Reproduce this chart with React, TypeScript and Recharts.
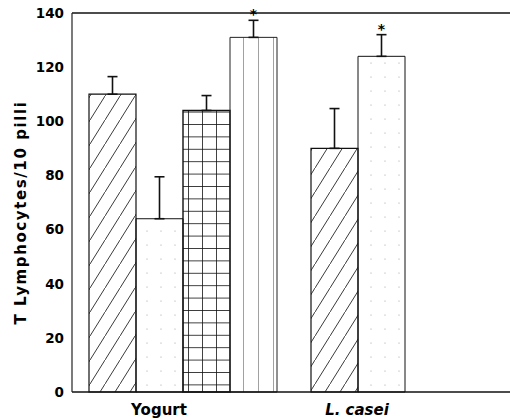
import React from "react";
import {
  BarChart,
  Bar,
  XAxis,
  YAxis,
  ErrorBar,
  LabelList,
  ReferenceLine,
} from "recharts";

// groups on the x axis
const categories = ["Yogurt", "L. casei"];

// one list per bar pattern, one value per group (null = no bar)
const hatchValues = [110, 90];
const hatchErrors = [6.5, 14.7];
const dotValues = [64, 124];
const dotErrors = [15.5, 8];
const gridValues = [104, null];
const gridErrors = [5.5, null];
const stripeValues = [131, null];
const stripeErrors = [6.3, null];

// significance markers (*)
const dotSignificant = [false, true];
const stripeSignificant = [true, false];

const yTicks = [0, 20, 40, 60, 80, 100, 120, 140];

const rows = categories.map((name, i) => ({
  name,
  hatch: hatchValues[i],
  hatchErr: hatchErrors[i] == null ? null : [0, hatchErrors[i]],
  dots: dotValues[i],
  dotsErr: dotErrors[i] == null ? null : [0, dotErrors[i]],
  grid: gridValues[i],
  gridErr: gridErrors[i] == null ? null : [0, gridErrors[i]],
  stripes: stripeValues[i],
  stripesErr: stripeErrors[i] == null ? null : [0, stripeErrors[i]],
}));

const FONT = "'DejaVu Sans', sans-serif";

const labelShift: Record<string, number> = { Yogurt: -24, "L. casei": -48 };
const italicLabels = ["L. casei"];

const GroupTick = (props: any) => {
  const { x, y, payload } = props;
  const name = payload.value;
  return (
    <text
      x={x + (labelShift[name] || 0)}
      y={y}
      dy={15}
      textAnchor="middle"
      fontFamily={FONT}
      fontWeight="bold"
      fontStyle={italicLabels.includes(name) ? "italic" : "normal"}
      fontSize={15}
      fill="#000"
    >
      {name}
    </text>
  );
};

const YLabel = (props: any) => {
  const vb = props.viewBox || { x: 0, y: 0, width: 0, height: 0 };
  const cx = vb.x + 26;
  const cy = vb.y + vb.height / 2 + 10;
  return (
    <text
      x={cx}
      y={cy}
      transform={`rotate(-90, ${cx}, ${cy})`}
      textAnchor="middle"
      fontFamily={FONT}
      fontWeight="bold"
      fontSize={15}
      letterSpacing={1.6}
      fill="#000"
    >
      T Lymphocytes/10 pilli
    </text>
  );
};

const starLabel = (errors: (number | null)[], flags: boolean[]) => (p: any) => {
  const idx = p.index;
  if (idx == null || !flags[idx]) return null;
  const vb = p.viewBox && p.viewBox.height != null ? p.viewBox : p;
  const { x, y, width, height } = vb;
  const value = Number(p.value);
  const err = errors[idx] || 0;
  const pxPerUnit = value ? height / value : 0;
  const capY = y - err * pxPerUnit;
  return (
    <text
      x={x + width / 2}
      y={capY - 1}
      textAnchor="middle"
      fontFamily={FONT}
      fontWeight="bold"
      fontSize={14}
      fill="#000"
    >
      *
    </text>
  );
};

export default function App() {
  return (
    <div
      style={{
        position: "fixed",
        left: 0,
        top: 0,
        width: 510,
        height: 419,
        overflow: "hidden",
        background: "#fff",
      }}
    >
      <BarChart
        width={516}
        height={419}
        data={rows}
        margin={{ top: 13, right: 0, bottom: 0, left: 0 }}
        barGap={0}
        barSize={47}
      >
        <defs>
          <pattern id="hatch" patternUnits="userSpaceOnUse" width="15" height="24">
            <line x1="0" y1="24" x2="15" y2="0" stroke="#222" strokeWidth="0.9" />
          </pattern>
          <pattern id="dots" patternUnits="userSpaceOnUse" width="14" height="14">
            <circle cx="7" cy="7" r="0.6" fill="#999" />
          </pattern>
          <pattern id="grid" patternUnits="userSpaceOnUse" x="188" y="0" width="14" height="12.4">
            <line x1="0" y1="0" x2="0" y2="12.4" stroke="#111" strokeWidth="1.6" />
            <line x1="0" y1="0" x2="14" y2="0" stroke="#111" strokeWidth="1.6" />
          </pattern>
          <pattern id="stripes" patternUnits="userSpaceOnUse" x="228" y="0" width="15" height="10">
            <line x1="0" y1="0" x2="0" y2="10" stroke="#444" strokeWidth="1" />
          </pattern>
        </defs>
        <ReferenceLine y={140} stroke="#111" strokeWidth={1.3} />
        <XAxis
          dataKey="name"
          axisLine={{ stroke: "#111", strokeWidth: 1.3 }}
          tickLine={false}
          height={27}
          tick={<GroupTick />}
          interval={0}
        />
        <YAxis
          width={72}
          domain={[0, 140]}
          ticks={yTicks}
          axisLine={{ stroke: "#222", strokeWidth: 1.2 }}
          tickLine={false}
          tick={{ fontFamily: FONT, fontWeight: "bold", fontSize: 13.5, fill: "#000" }}
          label={(props: any) => <YLabel {...props} />}
        />
        <Bar dataKey="hatch" fill="url(#hatch)" stroke="#111" strokeWidth={1.2} isAnimationActive={false}>
          <ErrorBar dataKey="hatchErr" direction="y" width={5} stroke="#111" strokeWidth={1.6} />
        </Bar>
        <Bar dataKey="dots" fill="url(#dots)" stroke="#111" strokeWidth={1} isAnimationActive={false}>
          <ErrorBar dataKey="dotsErr" direction="y" width={5} stroke="#111" strokeWidth={1.6} />
          <LabelList dataKey="dots" content={starLabel(dotErrors, dotSignificant)} />
        </Bar>
        <Bar dataKey="grid" fill="url(#grid)" stroke="#111" strokeWidth={1.4} isAnimationActive={false}>
          <ErrorBar dataKey="gridErr" direction="y" width={5} stroke="#111" strokeWidth={1.6} />
        </Bar>
        <Bar dataKey="stripes" fill="url(#stripes)" stroke="#222" strokeWidth={1} isAnimationActive={false}>
          <ErrorBar dataKey="stripesErr" direction="y" width={5} stroke="#111" strokeWidth={1.6} />
          <LabelList dataKey="stripes" content={starLabel(stripeErrors, stripeSignificant)} />
        </Bar>
      </BarChart>
    </div>
  );
}
